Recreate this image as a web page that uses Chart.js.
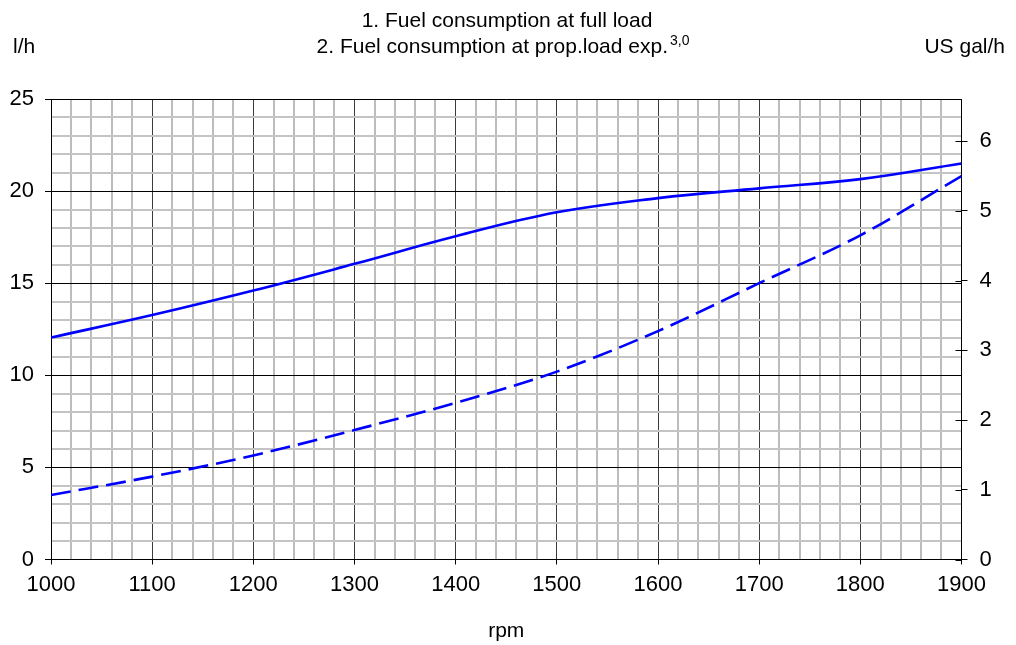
<!DOCTYPE html>
<html>
<head>
<meta charset="utf-8">
<title>Fuel consumption</title>
<script src="https://cdn.jsdelivr.net/npm/chart.js@4.4.1/dist/chart.umd.min.js"></script>
<style>
	html, body { margin: 0; padding: 0; background: #fff; }
	#chart { display: block; }
</style>
</head>
<body>
<canvas id="chart" width="1016" height="645"></canvas>
<script>
	'use strict';

	// Engine speed, rpm
	var rpm = [1000, 1100, 1200, 1300, 1400, 1500, 1600, 1700, 1800, 1900];
	// 1. Fuel consumption at full load, l/h
	var fullLoad = [12.05, 13.27, 14.6, 16.05, 17.55, 18.85, 19.62, 20.15, 20.65, 21.5];
	// 2. Fuel consumption at prop.load exp. 3,0, l/h
	var propLoad = [3.5, 4.5, 5.65, 7.03, 8.5, 10.2, 12.4, 15.0, 17.6, 20.82];

	var titleLines = ['1. Fuel consumption at full load', '2. Fuel consumption at prop.load exp.'];
	var titleSup = '3,0';
	var leftUnit = 'l/h';
	var rightUnit = 'US gal/h';
	var xTitle = 'rpm';

	var LITRES_PER_GALLON = 3.785411784;
	var FONT = '"Liberation Sans", Arial, Helvetica, sans-serif';

	function points(ys) {
		return rpm.map(function (x, i) {
			return {x: x, y: ys[i]};
		});
	}

	function isMajor(value, step) {
		return Math.abs(value % step) < 1e-6;
	}

	// Titles and unit labels above the plot
	var headerPlugin = {
		id: 'header',
		afterDraw: function (chart) {
			var ctx = chart.ctx,
				cx = 503,
				main, sup, left;

			ctx.save();
			ctx.fillStyle = '#000';
			ctx.textBaseline = 'alphabetic';

			ctx.font = '21px ' + FONT;
			ctx.textAlign = 'center';
			ctx.fillText(titleLines[0], 507, 26.5);

			ctx.textAlign = 'left';
			main = ctx.measureText(titleLines[1]).width;
			ctx.font = '14px ' + FONT;
			sup = ctx.measureText(titleSup).width;
			left = cx - (main + 2 + sup) / 2;

			ctx.font = '21px ' + FONT;
			ctx.fillText(titleLines[1], left, 53);
			ctx.font = '14px ' + FONT;
			ctx.fillText(titleSup, left + main + 2, 44.5);

			ctx.font = '21px ' + FONT;
			ctx.fillText(leftUnit, 13, 53);
			ctx.textAlign = 'right';
			ctx.fillText(rightUnit, 1005, 53);
			ctx.restore();
		}
	};

	// Right axis ticks cross the axis line, draw the inner half
	var innerTicksPlugin = {
		id: 'innerTicks',
		afterDraw: function (chart) {
			var scale = chart.scales.y2,
				ctx = chart.ctx,
				right = chart.chartArea.right;

			ctx.save();
			ctx.strokeStyle = '#000';
			ctx.lineWidth = 1;
			scale.ticks.forEach(function (tick, i) {
				var y = Math.round(scale.getPixelForTick(i)) + 0.5;
				ctx.beginPath();
				ctx.moveTo(right - 6, y);
				ctx.lineTo(right, y);
				ctx.stroke();
			});
			ctx.restore();
		}
	};

	Chart.defaults.font.family = FONT;
	Chart.defaults.font.size = 22;
	Chart.defaults.color = '#000';

	new Chart(document.getElementById('chart'), {
		type: 'line',
		data: {
			datasets: [
				{
					label: titleLines[0],
					data: points(fullLoad),
					borderColor: '#0000ff',
					borderWidth: 2.6,
					pointRadius: 0,
					tension: 0.4,
					fill: false
				},
				{
					label: titleLines[1] + titleSup,
					data: points(propLoad),
					borderColor: '#0000ff',
					borderWidth: 2.6,
					borderDash: [20, 8],
					pointRadius: 0,
					cubicInterpolationMode: 'monotone',
					fill: false
				}
			]
		},
		options: {
			responsive: false,
			animation: false,
			events: [],
			layout: {
				padding: {top: 99, left: 0, right: 0, bottom: 0}
			},
			plugins: {
				legend: {display: false},
				tooltip: {enabled: false},
				title: {display: false}
			},
			scales: {
				x: {
					type: 'linear',
					min: rpm[0],
					max: rpm[rpm.length - 1],
					afterFit: function (scale) { scale.height = 85.5; },
					border: {display: true, color: '#000', width: 1},
					grid: {
						color: function (c) { return isMajor(c.tick.value, 100) ? '#3c3c3c' : '#bdbdbd'; },
						lineWidth: function (c) { return isMajor(c.tick.value, 100) ? 1 : 2; },
						tickColor: function (c) { return isMajor(c.tick.value, 100) ? '#000' : 'rgba(0,0,0,0)'; },
						tickLength: 5,
						drawTicks: true
					},
					ticks: {
						stepSize: 20,
						autoSkip: false,
						maxRotation: 0,
						padding: 7,
						callback: function (v) { return isMajor(v, 100) ? String(v) : ''; }
					},
					title: {
						display: true,
						text: xTitle,
						font: {size: 21},
						padding: {top: 0, bottom: 1}
					}
				},
				y: {
					position: 'left',
					min: 0,
					max: 25,
					afterFit: function (scale) { scale.width = 51; },
					border: {display: true, color: '#000', width: 1},
					grid: {
						color: function (c) { return isMajor(c.tick.value, 5) ? '#000' : '#c4c4c4'; },
						lineWidth: function (c) { return isMajor(c.tick.value, 5) ? 1 : 2; },
						tickColor: function (c) { return isMajor(c.tick.value, 5) ? '#000' : 'rgba(0,0,0,0)'; },
						tickLength: 6,
						drawTicks: true
					},
					ticks: {
						stepSize: 1,
						autoSkip: false,
						padding: 11,
						callback: function (v) { return isMajor(v, 5) ? String(v) : ''; }
					}
				},
				y2: {
					position: 'right',
					min: 0,
					max: 25 / LITRES_PER_GALLON,
					afterFit: function (scale) { scale.width = 54.5; },
					border: {display: true, color: '#000', width: 1},
					grid: {
						drawOnChartArea: false,
						drawTicks: true,
						tickLength: 6,
						tickColor: '#000'
					},
					ticks: {
						stepSize: 1,
						includeBounds: false,
						padding: 12
					}
				}
			}
		},
		plugins: [headerPlugin, innerTicksPlugin]
	});
</script>
</body>
</html>
